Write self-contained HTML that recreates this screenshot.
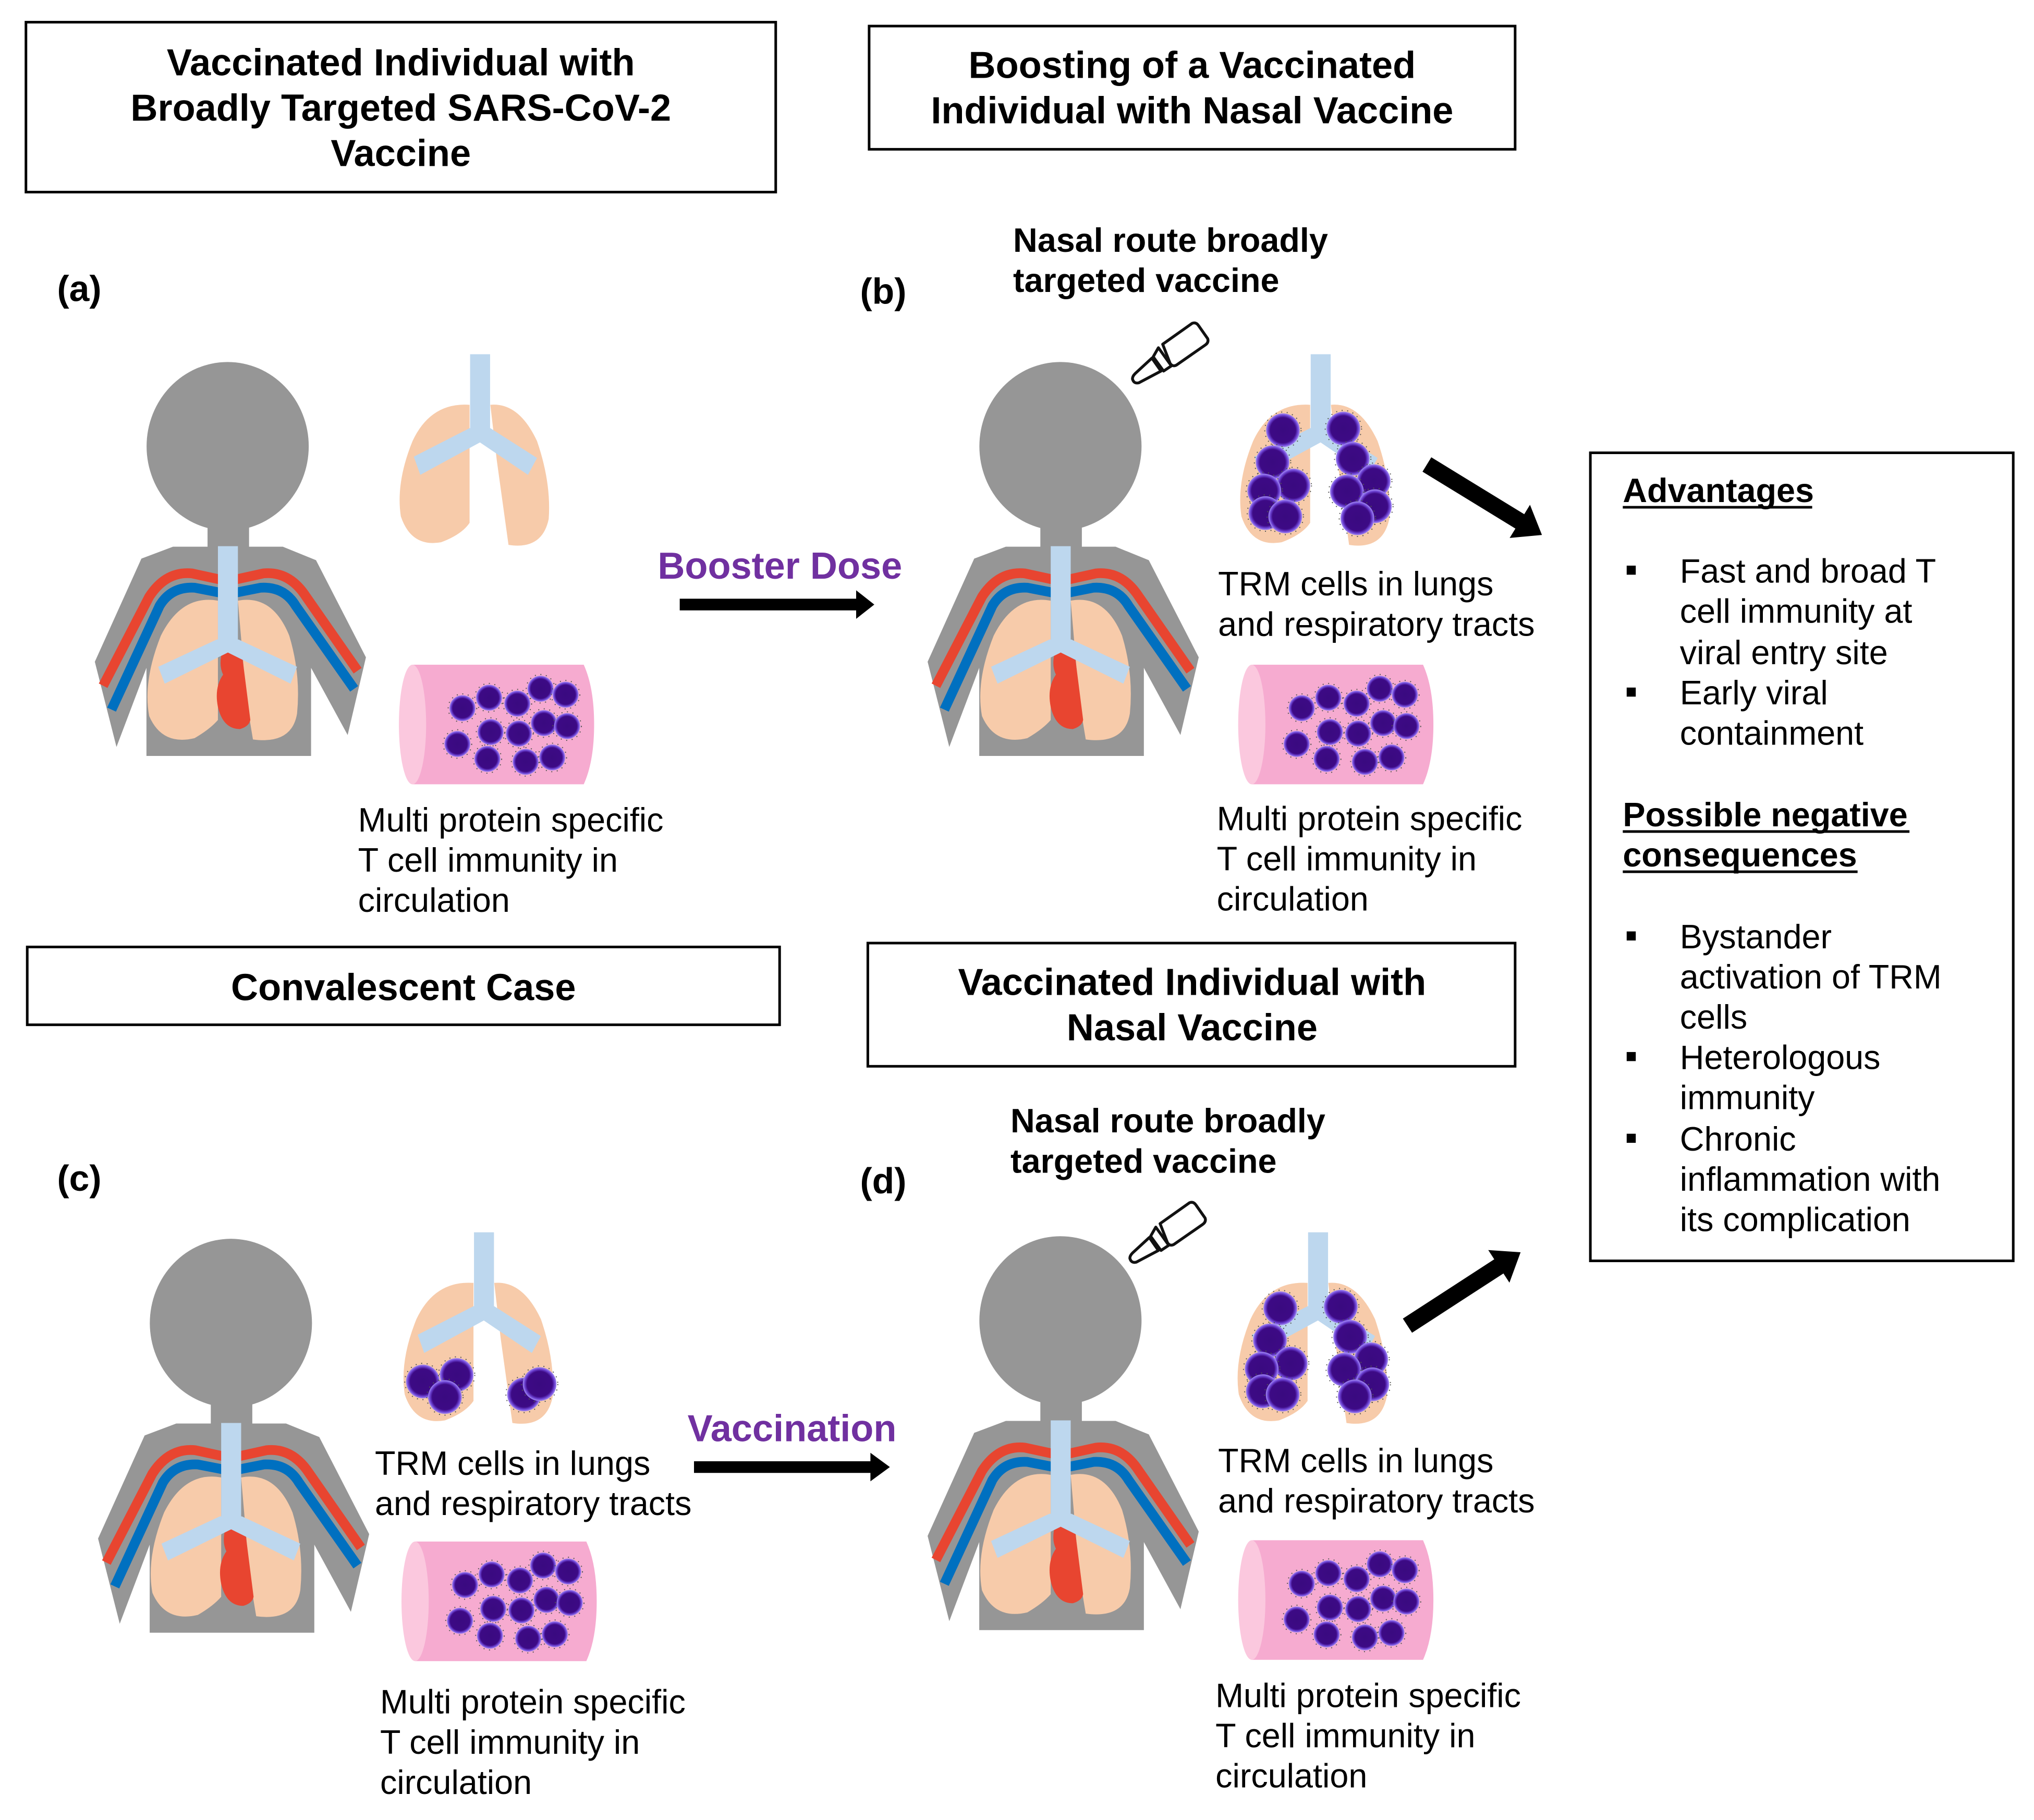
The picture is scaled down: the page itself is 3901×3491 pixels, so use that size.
<!DOCTYPE html>
<html><head><meta charset="utf-8"><style>
html,body{margin:0;padding:0;background:#fff}
svg{display:block}
text{font-family:"Liberation Sans",Arial,sans-serif;fill:#000}
.b{font-weight:bold}
</style></head><body>
<svg width="3901" height="3491" viewBox="0 0 1568 1403" xmlns="http://www.w3.org/2000/svg">
<defs>
<radialGradient id="cg" cx="50%" cy="50%" r="50%">
<stop offset="0%" stop-color="#3a0a80"/><stop offset="75%" stop-color="#3d0a85"/><stop offset="88%" stop-color="#6a3fd0"/><stop offset="100%" stop-color="#a48cf5"/>
</radialGradient>
<g id="person">
<ellipse cx="175.5" cy="344" rx="62.5" ry="65" fill="#969696"/>
<rect x="160" y="400" width="32" height="25" fill="#969696"/>
<polygon fill="#969696" points="133.4,421.4 218,421.4 243.6,431.8 282.1,506.7 268,566.6 239.8,514.8 239.8,582.7 112.9,582.7 112.9,514.8 89.8,575.8 73.1,510.1 109,430.6"/>
<path d="M79.5,528.6 L115,460 Q128,440 148,442 L175.7,448 L203,442 Q223,440 236,460 L275.7,517" fill="none" stroke="#e84530" stroke-width="7.5"/>
<path d="M86,547 L123,467 Q132,452 150,453 L175.7,458 L201,453 Q219,452 228,467 L273,531" fill="none" stroke="#0070c0" stroke-width="7.5"/>
<path d="M168,463 Q140,458 124,490 Q110,525 115,552 Q125,575 150,569 Q162,562 168,555 Z" fill="#f7cbaa"/>
<path d="M183.4,463 Q210,458 223,490 Q232,520 229,550 Q225,574 195,570 L190,540 Z" fill="#f7cbaa"/>
<path d="M172,500 Q168,512 172,520 Q165,530 168,545 Q172,562 185,562 Q192,560 193,555 L186,500 Z" fill="#e84530"/>
<rect x="168" y="421" width="15.4" height="76" fill="#bdd7ee"/>
<path d="M167,493 L122,514 L127,527 L175.7,503 L224,527 L229,514 L184,493 Z" fill="#bdd7ee"/>
</g>
<g id="lungs">
<path d="M362,312 Q332,310 318,340 Q305,372 309,398 Q317,422 340,418 Q356,412 362,403 Z" fill="#f7cbaa"/>
<path d="M378,312 Q400,310 414,340 Q425,372 423,400 Q418,424 392,420 L383,355 Z" fill="#f7cbaa"/>
<rect x="362.4" y="273" width="15.4" height="60" fill="#bdd7ee"/>
<path d="M362,330 L319,352 L324,366 L370,341 L407,366 L414,353 L378,330 Z" fill="#bdd7ee"/>
</g>
<g id="cell"><circle r="10" fill="url(#cg)"/><circle r="11" fill="none" stroke="#555" stroke-width="0.8" stroke-dasharray="0.8 3.5"/></g>
<g id="cellL"><circle r="13" fill="url(#cg)"/><circle r="14" fill="none" stroke="#555" stroke-width="0.8" stroke-dasharray="0.8 3.5"/></g>
<g id="vessel">
<path d="M318,512.4 L450,512.4 Q458,530 458,558.5 Q458,587 450,604.6 L318,604.6 Z" fill="#f6abd0"/>
<ellipse cx="318" cy="558.5" rx="10.5" ry="46.1" fill="#fbc8de"/>
<use href="#cell" x="356.5" y="545.9"/><use href="#cell" x="377" y="537.8"/><use href="#cell" x="398.8" y="542.4"/>
<use href="#cell" x="416.7" y="530.9"/><use href="#cell" x="436" y="535.5"/><use href="#cell" x="378.2" y="564.3"/>
<use href="#cell" x="400" y="565.5"/><use href="#cell" x="419.3" y="557.4"/><use href="#cell" x="437.2" y="559.7"/>
<use href="#cell" x="352.6" y="573.5"/><use href="#cell" x="375.7" y="585"/><use href="#cell" x="405.2" y="587.3"/>
<use href="#cell" x="425.7" y="583.9"/>
</g>
<g id="lungcells">
<use href="#cellL" x="341" y="331.6"/><use href="#cellL" x="387.6" y="330.3"/><use href="#cellL" x="333" y="356.3"/>
<use href="#cellL" x="349" y="374.2"/><use href="#cellL" x="326.6" y="378.2"/><use href="#cellL" x="327.5" y="395.5"/>
<use href="#cellL" x="342.8" y="398.1"/><use href="#cellL" x="394.8" y="353.6"/><use href="#cellL" x="411" y="370.9"/>
<use href="#cellL" x="390.3" y="378.9"/><use href="#cellL" x="411.9" y="390.2"/><use href="#cellL" x="398.4" y="399.5"/>
</g>
<g id="dropper" fill="#fff" stroke="#111" stroke-width="2.2" stroke-linejoin="round">
<path d="M896.3,265.3 L919,249.2 Q922,248 924,251 L931,261 Q932,264 929,266 L907,281.3 Q904,283 902,280 Z"/>
<path d="M893,268 L903,282 L897,286 L889,275 Z"/>
<path d="M888,276 L895,286 L878,295 Q874,296 873,292 Q873,290 875,288 Z"/>
</g>
</defs>

<g fill="none" stroke="#000" stroke-width="2">
<rect x="20" y="17" width="578" height="131"/>
<rect x="670" y="20" width="498" height="95"/>
<rect x="21" y="730" width="580" height="60"/>
<rect x="669" y="727" width="499" height="95"/>
<rect x="1226" y="349" width="326" height="623"/>
</g>
<g class="b" font-size="29" text-anchor="middle">
<text x="309" y="58">Vaccinated Individual with</text>
<text x="309" y="93">Broadly Targeted SARS-CoV-2</text>
<text x="309" y="128">Vaccine</text>
<text x="919" y="60">Boosting of a Vaccinated</text>
<text x="919" y="95">Individual with Nasal Vaccine</text>
<text x="311" y="771">Convalescent Case</text>
<text x="919" y="767">Vaccinated Individual with</text>
<text x="919" y="802">Nasal Vaccine</text>
</g>
<g class="b" font-size="28">
<text x="44" y="232">(a)</text>
<text x="663" y="234">(b)</text>
<text x="44" y="918">(c)</text>
<text x="663" y="920">(d)</text>
</g>
<g class="b" font-size="26">
<text x="781" y="194">Nasal route broadly</text>
<text x="781" y="225">targeted vaccine</text>
<text x="779" y="873">Nasal route broadly</text>
<text x="779" y="904">targeted vaccine</text>
</g>
<g class="b" font-size="29">
<text x="507" y="446" style="fill:#7030a0">Booster Dose</text>
<text x="530" y="1111" style="fill:#7030a0">Vaccination</text>
</g>

<use href="#person"/>
<use href="#person" x="642" y="0"/>
<use href="#person" x="2.5" y="676"/>
<use href="#person" x="642" y="674"/>

<use href="#lungs"/>
<g transform="translate(648,0)"><use href="#lungs"/><use href="#lungcells"/></g>
<g transform="translate(3,677)"><use href="#lungs"/>
<use href="#cellL" x="323" y="388"/><use href="#cellL" x="349" y="383"/><use href="#cellL" x="340" y="400"/><use href="#cellL" x="401" y="398"/><use href="#cellL" x="413" y="390"/>
</g>
<g transform="translate(646,677)"><use href="#lungs"/><use href="#lungcells"/></g>

<use href="#vessel"/>
<use href="#vessel" x="647" y="0"/>
<use href="#vessel" x="2" y="676"/>
<use href="#vessel" x="647" y="675"/>

<use href="#dropper"/>
<use href="#dropper" x="-2" y="678"/>

<g fill="#000">
<rect x="524" y="461.5" width="138" height="9"/>
<polygon points="660,455 674,466 660,477"/>
<rect x="535" y="1126.5" width="138" height="9"/>
<polygon points="671,1120 686,1131 671,1142"/>
<g transform="translate(1100,358) rotate(31.5)"><rect x="0" y="-6.5" width="88" height="13"/><polygon points="84,-15 104,0 84,15"/></g>
<g transform="translate(1085,1022) rotate(-33)"><rect x="0" y="-6.5" width="88" height="13"/><polygon points="84,-15 104,0 84,15"/></g>
</g>

<g font-size="26">
<text x="939" y="459">TRM cells in lungs</text>
<text x="939" y="490">and respiratory tracts</text>
<text x="289" y="1137">TRM cells in lungs</text>
<text x="289" y="1168">and respiratory tracts</text>
<text x="939" y="1135">TRM cells in lungs</text>
<text x="939" y="1166">and respiratory tracts</text>
<text x="276" y="641">Multi protein specific</text>
<text x="276" y="672">T cell immunity in</text>
<text x="276" y="703">circulation</text>
<text x="938" y="640">Multi protein specific</text>
<text x="938" y="671">T cell immunity in</text>
<text x="938" y="702">circulation</text>
<text x="293" y="1321">Multi protein specific</text>
<text x="293" y="1352">T cell immunity in</text>
<text x="293" y="1383">circulation</text>
<text x="937" y="1316">Multi protein specific</text>
<text x="937" y="1347">T cell immunity in</text>
<text x="937" y="1378">circulation</text>
</g>

<g font-size="26">
<text class="b" x="1251" y="387">Advantages</text>
<rect x="1251" y="390" width="146" height="2" fill="#000"/>
<text x="1295" y="449">Fast and broad T</text>
<text x="1295" y="480">cell immunity at</text>
<text x="1295" y="512">viral entry site</text>
<text x="1295" y="543">Early viral</text>
<text x="1295" y="574">containment</text>
<text class="b" x="1251" y="637">Possible negative</text>
<rect x="1251" y="640" width="221" height="2" fill="#000"/>
<text class="b" x="1251" y="668">consequences</text>
<rect x="1251" y="671" width="181" height="2" fill="#000"/>
<text x="1295" y="731">Bystander</text>
<text x="1295" y="762">activation of TRM</text>
<text x="1295" y="793">cells</text>
<text x="1295" y="824">Heterologous</text>
<text x="1295" y="855">immunity</text>
<text x="1295" y="887">Chronic</text>
<text x="1295" y="918">inflammation with</text>
<text x="1295" y="949">its complication</text>
</g>
<g fill="#000">
<rect x="1254" y="436" width="7" height="7"/>
<rect x="1254" y="530" width="7" height="7"/>
<rect x="1254" y="718" width="7" height="7"/>
<rect x="1254" y="811" width="7" height="7"/>
<rect x="1254" y="874" width="7" height="7"/>
</g>
</svg>
</body></html>
